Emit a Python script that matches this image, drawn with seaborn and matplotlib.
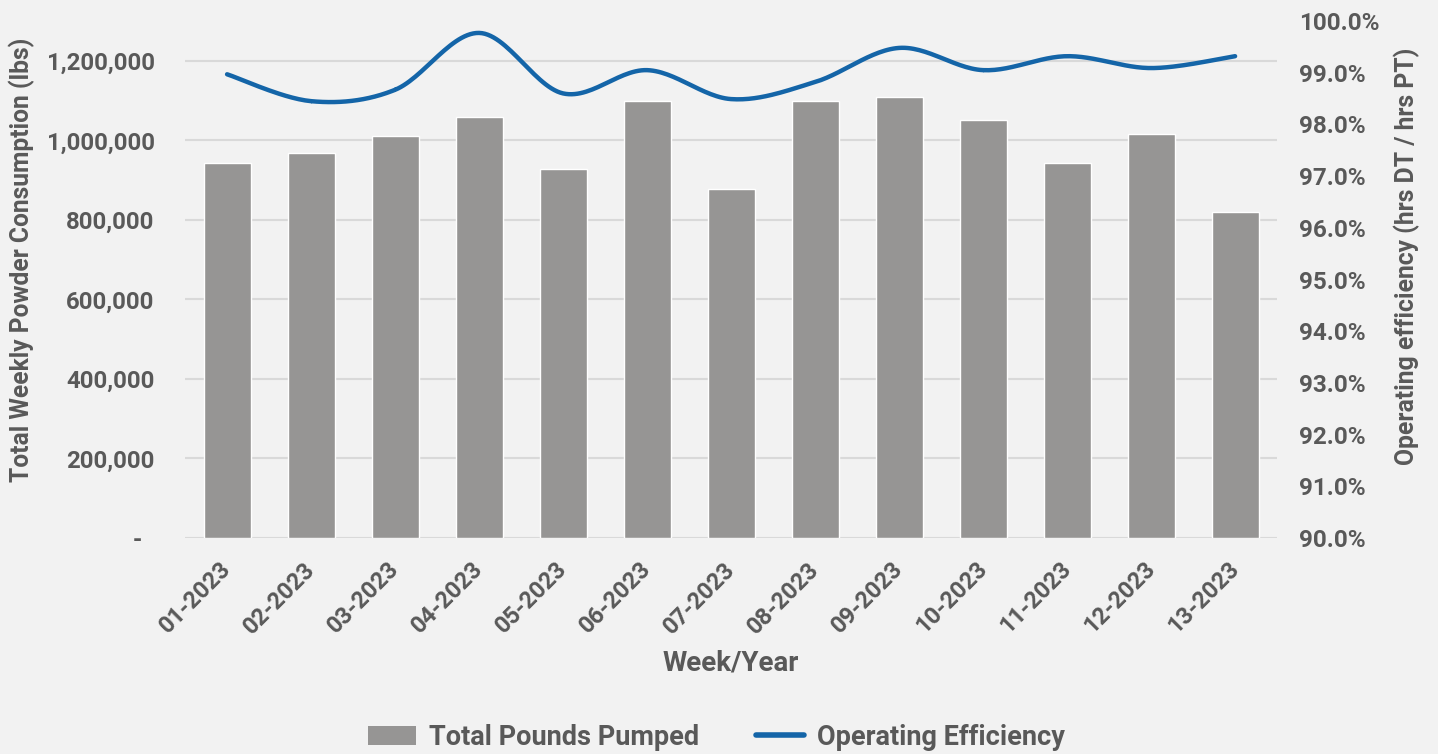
import numpy as np
import pandas as pd
import matplotlib
matplotlib.use("Agg")
import matplotlib.pyplot as plt
import seaborn as sns
from matplotlib.ticker import FuncFormatter, MultipleLocator
from matplotlib.patches import Patch
from matplotlib.lines import Line2D

# -------------------------------------------------------
# Data
# -------------------------------------------------------
weeks = ["01-2023", "02-2023", "03-2023", "04-2023", "05-2023", "06-2023", "07-2023",
         "08-2023", "09-2023", "10-2023", "11-2023", "12-2023", "13-2023"]
pounds_pumped = [943000, 969000, 1011000, 1059000, 928000, 1099000, 878000,
                 1099000, 1109000, 1052000, 943000, 1016000, 820000]
op_efficiency = [98.97, 98.45, 98.67, 99.77, 98.60, 99.05, 98.49,
                 98.82, 99.48, 99.05, 99.32, 99.09, 99.32]

bg = "#f2f2f2"
text_col = "#595959"
bar_col = "#969594"
line_col = "#1465a8"

sns.set_style("white")
plt.rcParams["font.family"] = ["Roboto", "DejaVu Sans"]
plt.rcParams["font.weight"] = "bold"

df = pd.DataFrame({"week": weeks, "pounds": pounds_pumped, "eff": op_efficiency})

fig = plt.figure(figsize=(14.38, 7.54), dpi=100, facecolor=bg)
ax = fig.add_axes([0.1287, 0.2865, 0.7594, 0.6856], facecolor=bg)

# gridlines behind the bars
for v in range(0, 1300001, 200000):
    ax.axhline(v, color="#d9d9d9", lw=1.5, zorder=0)

sns.barplot(data=df, x="week", y="pounds", color=bar_col, width=0.56,
            saturation=1, ax=ax, zorder=2)
ax.set_xlim(-0.5, len(weeks) - 0.5)
ax.set_ylim(0, 1300000)
ax.yaxis.set_major_locator(MultipleLocator(200000))
ax.yaxis.set_major_formatter(FuncFormatter(lambda v, p: "-  " if v == 0 else f"{v:,.0f}"))
ax.tick_params(axis="y", length=0, pad=22, labelsize=17.3, labelcolor=text_col)
ax.tick_params(axis="x", length=0, pad=20, labelsize=17, labelcolor=text_col)
for lab in ax.get_xticklabels():
    lab.set_rotation(45)
    lab.set_ha("right")
    lab.set_va("center")
    lab.set_rotation_mode("anchor")
    lab.set_fontweight("bold")
for lab in ax.get_yticklabels():
    lab.set_fontweight("bold")
ax.set_xlabel("Week/Year", fontsize=20, color=text_col, fontweight="bold", labelpad=8)
ax.set_ylabel("Total Weekly Powder Consumption (lbs)", fontsize=17.7, color=text_col,
              fontweight="bold")
ax.yaxis.set_label_coords(-0.1375, 0.538)
sns.despine(ax=ax, left=True, bottom=True, right=True, top=True)

# -------------------------------------------------------
# Smoothed efficiency line on secondary axis (Catmull-Rom)
# -------------------------------------------------------
ax2 = ax.twinx()
xs = np.arange(len(op_efficiency), dtype=float)
ys = np.array(op_efficiency)
px = np.concatenate([[xs[0]], xs, [xs[-1]]])
py = np.concatenate([[ys[0]], ys, [ys[-1]]])
curve_x, curve_y = [], []
t = np.linspace(0, 1, 30)
for i in range(1, len(px) - 2):
    for arr, out in ((px, curve_x), (py, curve_y)):
        p0, p1, p2, p3 = arr[i - 1], arr[i], arr[i + 1], arr[i + 2]
        seg = 0.5 * ((2 * p1) + (-p0 + p2) * t + (2 * p0 - 5 * p1 + 4 * p2 - p3) * t ** 2
                     + (-p0 + 3 * p1 - 3 * p2 + p3) * t ** 3)
        out.extend(seg)
sns.lineplot(x=curve_x, y=curve_y, color=line_col, lw=3.2, ax=ax2, sort=False,
             estimator=None, zorder=3)
ax2.set_ylim(90, 100)
ax2.yaxis.set_major_locator(MultipleLocator(1))
ax2.yaxis.set_major_formatter(FuncFormatter(lambda v, p: f"{v:.1f}%"))
ax2.tick_params(axis="y", length=0, pad=16, labelsize=17.5, labelcolor=text_col)
for lab in ax2.get_yticklabels():
    lab.set_fontweight("bold")
ax2.set_ylabel("Operating efficiency (hrs DT / hrs PT)", fontsize=17.8, color=text_col,
               fontweight="bold")
ax2.yaxis.set_label_coords(1.1065, 0.545)
sns.despine(ax=ax2, left=True, bottom=True, right=True, top=True)
ax2.grid(False)

# -------------------------------------------------------
# Legend
# -------------------------------------------------------
handles = [Patch(facecolor=bar_col, edgecolor="none"),
           Line2D([0], [0], color=line_col, lw=4)]
fig.legend(handles, ["Total Pounds Pumped", "Operating Efficiency"], loc="center",
           bbox_to_anchor=(0.498, 0.022), ncol=2, frameon=False,
           labelcolor=text_col, handlelength=1.8, handletextpad=0.45, columnspacing=2.1,
           prop={"weight": "bold", "size": 19.5})

plt.savefig("out.png", dpi=100, facecolor=bg)
plt.close()
